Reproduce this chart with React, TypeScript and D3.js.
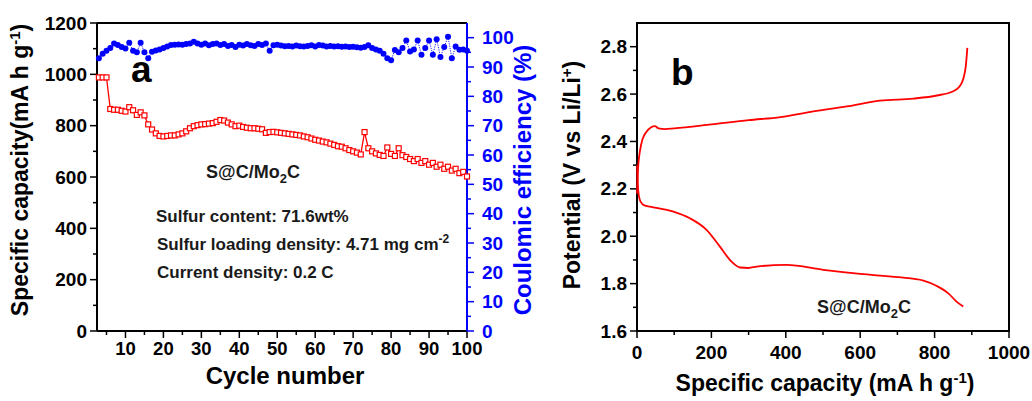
import React from "react";
import * as d3 from "d3";

// panel a: cycling at 0.2 C, cycles 3..100
const firstCycle = 3;
const capacity = [
  988, 988, 988, 865, 862, 862, 858, 855, 872, 860,
  842, 852, 840, 805, 785, 770, 760, 758, 760, 762,
  762, 766, 770, 778, 790, 798, 802, 805, 806, 808,
  810, 815, 822, 820, 812, 805, 798, 800, 795, 792,
  790, 790, 788, 786, 772, 775, 776, 774, 772, 770,
  768, 766, 764, 762, 758, 755, 750, 745, 742, 738,
  735, 730, 725, 720, 718, 712, 705, 700, 695, 688,
  775, 712, 700, 692, 686, 682, 715, 690, 682, 712,
  685, 678, 670, 662, 670, 655, 662, 648, 655, 640,
  648, 632, 640, 625, 632, 615, 620, 602,
];
const coulombic = [
  93, 94.5, 95.5, 96.5, 98, 97.5, 96.8, 96.3, 98.3, 95.5,
  95, 98.3, 95, 93, 95.2, 95.6, 96, 96.5, 97, 97.5,
  97.6, 97.7, 97.6, 97.8, 98, 98.6, 98, 97.6, 98, 97.4,
  97.8, 98, 97.5, 97.8, 97.2, 97.5, 96.8, 97.6, 97.3, 97.8,
  97.4, 97.2, 97.8, 97.5, 98, 95.5, 97.4, 97.6, 97.3, 97.1,
  97.2, 97, 97.3, 97.1, 97, 97.2, 97.4, 97, 97.5, 97.3,
  97, 97.2, 97, 97.1, 96.9, 97, 96.8, 96.9, 96.7, 96.6,
  96.8, 97.4, 96.5, 96, 95.5, 94.5, 93, 92.3, 95.8, 95,
  96.5, 99, 95.3, 96, 99, 94.2, 96.5, 99, 94.2, 99.5,
  93.4, 96.8, 100.3, 93, 97, 95.9, 96, 95.5,
];
const cycles = capacity.map((_, i) => firstCycle + i);

const cycleTicks = [10, 20, 30, 40, 50, 60, 70, 80, 90, 100];
const capTicks = [0, 200, 400, 600, 800, 1000, 1200];
const ceTicks = [0, 10, 20, 30, 40, 50, 60, 70, 80, 90, 100];

// panel b: charge / discharge profile
const chargeCap = [0, 3, 8, 15, 25, 38, 48, 58, 75, 100, 200, 300, 386, 474, 564, 653, 743, 806, 850, 866, 873, 879, 884, 888];
const chargeV = [2.18, 2.29, 2.36, 2.41, 2.44, 2.46, 2.465, 2.455, 2.452, 2.455, 2.472, 2.49, 2.503, 2.527, 2.548, 2.572, 2.581, 2.594, 2.612, 2.63, 2.647, 2.675, 2.72, 2.795];
const dischargeCap = [0, 2, 5, 10, 20, 35, 98, 142, 187, 223, 254, 277, 300, 322, 402, 501, 600, 702, 770, 806, 837, 859, 877];
const dischargeV = [2.3, 2.22, 2.17, 2.145, 2.13, 2.125, 2.104, 2.076, 2.027, 1.956, 1.893, 1.868, 1.866, 1.872, 1.879, 1.858, 1.841, 1.827, 1.813, 1.79, 1.759, 1.724, 1.703];

const potTicks = [1.6, 1.8, 2.0, 2.2, 2.4, 2.6, 2.8];
const specTicks = [0, 200, 400, 600, 800, 1000];

const FONT = "'Liberation Sans', Arial, sans-serif";
const RED = "#ff0000";
const BLUE = "#0000ff";

export default function App() {
  // panel a scales
  const xA = d3.scaleLinear().domain([2.5, 100]).range([97, 467]);
  const yA = d3.scaleLinear().domain([0, 1200]).range([331, 23]);
  const yCE = d3.scaleLinear().domain([0, 105]).range([331, 23]);

  // panel b scales
  const xB = d3.scaleLinear().domain([0, 1000]).range([637, 1009]);
  const yB = d3.scaleLinear().domain([1.6, 2.9]).range([331, 23]);

  const capLine = d3
    .line<number>()
    .x((_, i) => xA(cycles[i]))
    .y((d) => yA(d));
  const ceLine = d3
    .line<number>()
    .x((_, i) => xA(cycles[i]))
    .y((d) => yCE(d));

  const chargePath = d3
    .line<number>()
    .x((d) => xB(d))
    .y((_, i) => yB(chargeV[i]))
    .curve(d3.curveMonotoneX)(chargeCap);
  const dischargePath = d3
    .line<number>()
    .x((d) => xB(d))
    .y((_, i) => yB(dischargeV[i]))
    .curve(d3.curveMonotoneX)(dischargeCap);

  const minorA = cycleTicks.map((t) => t - 5);
  const minorCap = capTicks.slice(1).map((t) => t - 100);
  const minorCE = ceTicks.slice(1).map((t) => t - 5);
  const minorSpec = specTicks.slice(1).map((t) => t - 100);
  const minorPot = potTicks.slice(1).map((t) => t - 0.1);

  const tickFont = { fontFamily: FONT, fontWeight: 700, fontSize: 19 };
  const titleFont = { fontFamily: FONT, fontWeight: 700, fontSize: 23 };
  const noteFont = { fontFamily: FONT, fontWeight: 700, fontSize: 17, fill: "#1a1a1a" };

  return (
    <div style={{ position: "absolute", left: 0, top: 0 }}>
      <svg width={1032} height={401} style={{ display: "block", background: "#fff" }}>
        {/* ---------- panel a ---------- */}
        {/* left axis */}
        {capTicks.map((t) => (
          <g key={"ca" + t}>
            <line x1={90} x2={97} y1={yA(t)} y2={yA(t)} stroke="#000" strokeWidth={1.5} />
            <text x={87} y={yA(t)} dy="0.35em" textAnchor="end" {...tickFont}>
              {t}
            </text>
          </g>
        ))}
        {minorCap.map((t) => (
          <line key={"cm" + t} x1={93} x2={97} y1={yA(t)} y2={yA(t)} stroke="#000" strokeWidth={1.5} />
        ))}
        {/* bottom axis */}
        {cycleTicks.map((t) => (
          <g key={"xa" + t}>
            <line x1={xA(t)} x2={xA(t)} y1={331} y2={338} stroke="#000" strokeWidth={1.5} />
            <text x={xA(t)} y={349} dy="0.35em" textAnchor="middle" {...tickFont} fontSize={18.5}>
              {t}
            </text>
          </g>
        ))}
        {minorA.map((t) => (
          <line key={"xm" + t} x1={xA(t)} x2={xA(t)} y1={331} y2={335} stroke="#000" strokeWidth={1.5} />
        ))}
        {/* right axis */}
        {ceTicks.map((t) => (
          <g key={"ce" + t}>
            <line x1={467} x2={474} y1={yCE(t)} y2={yCE(t)} stroke={BLUE} strokeWidth={1.5} />
            <text x={482} y={yCE(t)} dy="0.35em" textAnchor="start" {...tickFont} fill={BLUE}>
              {t}
            </text>
          </g>
        ))}
        {minorCE.map((t) => (
          <line key={"cem" + t} x1={467} x2={471} y1={yCE(t)} y2={yCE(t)} stroke={BLUE} strokeWidth={1.5} />
        ))}
        {/* frame */}
        <line x1={97} x2={467} y1={23} y2={23} stroke="#000" strokeWidth={2} />
        <line x1={97} x2={97} y1={23} y2={331} stroke="#000" strokeWidth={2} />
        <line x1={97} x2={467} y1={331} y2={331} stroke="#000" strokeWidth={2} />
        <line x1={467} x2={467} y1={23} y2={331} stroke={BLUE} strokeWidth={2} />

        {/* coulombic efficiency */}
        <path d={ceLine(coulombic) ?? ""} fill="none" stroke={BLUE} strokeWidth={0.9} strokeDasharray="1.2,1.2" />
        {coulombic.map((v, i) => (
          <circle key={"cp" + i} cx={xA(cycles[i])} cy={yCE(v)} r={3} fill={BLUE} />
        ))}

        {/* capacity */}
        <path d={capLine(capacity) ?? ""} fill="none" stroke={RED} strokeWidth={1.3} />
        {capacity.map((v, i) => (
          <rect
            key={"sq" + i}
            x={xA(cycles[i]) - 2.5}
            y={yA(v) - 2.5}
            width={5}
            height={5}
            fill="#fff"
            stroke={RED}
            strokeWidth={1.2}
          />
        ))}

        <text x={131} y={82} fontFamily={FONT} fontWeight={700} fontSize={37}>
          a
        </text>
        <text x={253} y={178} textAnchor="middle" {...noteFont} fontSize={18}>
          S@C/Mo<tspan dy={5} fontSize={13}>2</tspan>
          <tspan dy={-5}>C</tspan>
        </text>
        <text x={156} y={222} {...noteFont}>
          Sulfur content: 71.6wt%
        </text>
        <text x={157} y={250} {...noteFont}>
          Sulfur loading density: 4.71 mg cm<tspan dy={-7} fontSize={12}>-2</tspan>
        </text>
        <text x={157} y={278} {...noteFont}>
          Current density: 0.2 C
        </text>

        <text x={285} y={384} textAnchor="middle" {...titleFont} fontSize={24}>
          Cycle number
        </text>
        <text transform="translate(28,170) rotate(-90)" textAnchor="middle" {...titleFont}>
          Specific capacity(mA h g<tspan dy={-8} fontSize={15}>-1</tspan>
          <tspan dy={8}>)</tspan>
        </text>
        <text transform="translate(531,180) rotate(-90)" textAnchor="middle" {...titleFont} fontSize={24} fill={BLUE}>
          Coulomic efficiency (%)
        </text>

        {/* ---------- panel b ---------- */}
        {potTicks.map((t) => (
          <g key={"pt" + t}>
            <line x1={630} x2={637} y1={yB(t)} y2={yB(t)} stroke="#000" strokeWidth={1.5} />
            <text x={627} y={yB(t)} dy="0.35em" textAnchor="end" {...tickFont}>
              {t.toFixed(1)}
            </text>
          </g>
        ))}
        {minorPot.map((t) => (
          <line key={"pm" + t} x1={633} x2={637} y1={yB(t)} y2={yB(t)} stroke="#000" strokeWidth={1.5} />
        ))}
        {specTicks.map((t) => (
          <g key={"st" + t}>
            <line x1={xB(t)} x2={xB(t)} y1={331} y2={338} stroke="#000" strokeWidth={1.5} />
            <text x={xB(t)} y={352} dy="0.35em" textAnchor="middle" {...tickFont}>
              {t}
            </text>
          </g>
        ))}
        {minorSpec.map((t) => (
          <line key={"sm" + t} x1={xB(t)} x2={xB(t)} y1={331} y2={335} stroke="#000" strokeWidth={1.5} />
        ))}
        <rect x={637} y={23} width={372} height={308} fill="none" stroke="#000" strokeWidth={2} />

        <path d={chargePath ?? ""} fill="none" stroke={RED} strokeWidth={1.8} />
        <path d={dischargePath ?? ""} fill="none" stroke={RED} strokeWidth={1.8} />

        <text x={671} y={85} fontFamily={FONT} fontWeight={700} fontSize={37}>
          b
        </text>
        <text x={864} y={313} textAnchor="middle" {...noteFont} fontSize={18}>
          S@C/Mo<tspan dy={5} fontSize={13}>2</tspan>
          <tspan dy={-5}>C</tspan>
        </text>

        <text x={825} y={391} textAnchor="middle" {...titleFont}>
          Specific capacity (mA h g<tspan dy={-8} fontSize={15}>-1</tspan>
          <tspan dy={8}>)</tspan>
        </text>
        <text transform="translate(580,175) rotate(-90)" textAnchor="middle" {...titleFont}>
          Potential (V vs Li/Li<tspan dy={-8} fontSize={15}>+</tspan>
          <tspan dy={8}>)</tspan>
        </text>
      </svg>
    </div>
  );
}
